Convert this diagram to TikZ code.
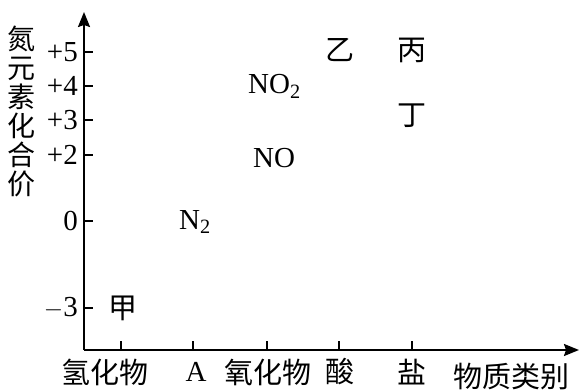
\documentclass[tikz,border=0pt]{standalone}
\usepackage{fontspec}
\setmainfont{Liberation Serif}
\newfontfamily\cjk{Noto Sans CJK SC}
\usetikzlibrary{arrows.meta}
\begin{document}
\begin{tikzpicture}[x=1pt,y=-1pt,
  axisline/.style={line width=2pt,-{Stealth[length=15pt,width=12pt,inset=2pt]}},
  tick/.style={line width=1.8pt},
  lat/.style={inner sep=0pt,font=\fontsize{29}{31}\selectfont},
  han/.style={inner sep=0pt,font=\cjk\fontsize{29}{31}\selectfont}]
\useasboundingbox (0,0) rectangle (579,390);
% axes
\coordinate (o) at (84,350);
\coordinate (ytop) at (84,12);
\coordinate (xend) at (579,350);
\draw[axisline] (o) -- (ytop);
\draw[axisline] (o) -- (xend);
% y ticks
\foreach \n/\yy/\t in {p5/52/+5,p4/86/+4,p3/120/+3,p2/155/+2,z/221/0,m3/308/$-$3}{
  \coordinate (yt\n) at (84,\yy);
  \coordinate (ye\n) at (93,\yy);
  \draw[tick] (yt\n) -- (ye\n);
  \node[lat,anchor=east] (yl\n) at (78,\yy) {\t};
}
% x ticks
\foreach \n/\xx in {h/121,a/193,ox/267,ac/339,s/412}{
  \coordinate (xt\n) at (\xx,350);
  \coordinate (xe\n) at (\xx,341);
  \draw[tick] (xt\n) -- (xe\n);
}
% x labels
\node[han] (lh) at (105,372) {氢化物};
\node[lat] (la) at (196,372) {A};
\node[han] (lox) at (268,372) {氧化物};
\node[han] (lac) at (340,372) {酸};
\node[han] (ls) at (412,372) {盐};
\node[han] (lx) at (511,377) {物质类别};
% y label
\node[han,align=center,font=\cjk\fontsize{28}{29}\selectfont] (ly) at (22,111) {氮\\元\\素\\化\\合\\价};
% points
\node[han] (jia) at (123,308) {甲};
\node[lat,anchor=west] (n2) at (179,222) {N\textsubscript{2}};
\node[lat,anchor=west] (no2) at (248,86) {NO\textsubscript{2}};
\node[lat,anchor=west] (no) at (253,158) {NO};
\node[han] (yi) at (340,50) {乙};
\node[han] (bing) at (412,50) {丙};
\node[han] (ding) at (412,116) {丁};
\end{tikzpicture}
\end{document}
